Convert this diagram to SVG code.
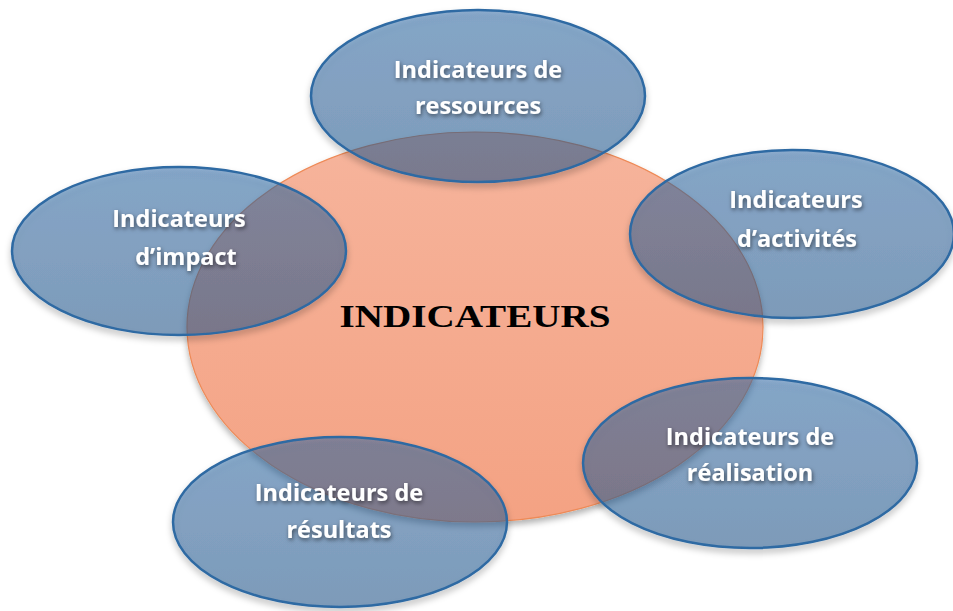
<svg xmlns="http://www.w3.org/2000/svg" width="953" height="611" viewBox="0 0 953 611">
<defs>
<linearGradient id="og" x1="0" y1="0" x2="0" y2="1">
<stop offset="0" stop-color="#f6b49c"/>
<stop offset="1" stop-color="#f4a283"/>
</linearGradient>
<linearGradient id="bg" x1="0" y1="0" x2="0" y2="1">
<stop offset="0" stop-color="#2f6aa8"/>
<stop offset="1" stop-color="#22578f"/>
</linearGradient>
<filter id="sh" x="-20%" y="-20%" width="140%" height="150%">
<feDropShadow dx="0" dy="4" stdDeviation="3" flood-color="#000" flood-opacity="0.3"/>
</filter>
<filter id="ts" x="-20%" y="-40%" width="140%" height="180%">
<feDropShadow dx="1" dy="2" stdDeviation="2" flood-color="#000" flood-opacity="0.55"/>
</filter>
</defs>
<style>
.sat{fill:url(#bg);fill-opacity:0.5;stroke:#2f6aa3;stroke-width:2.5}
.lbl{font-family:"Open Sans","Liberation Sans",sans-serif;font-weight:bold;font-size:23.5px;fill:#ffffff;text-anchor:middle;filter:url(#ts)}
.ctr{font-family:"Liberation Serif","DejaVu Serif",serif;font-weight:bold;font-size:32px;fill:#000;text-anchor:middle}
</style>
<rect width="953" height="611" fill="#ffffff"/>
<g id="center">
<ellipse cx="475" cy="327" rx="288" ry="195" fill="url(#og)" stroke="#ee8a57" stroke-width="1.2" filter="url(#sh)"/>
<text class="ctr" x="475" y="327" textLength="271" lengthAdjust="spacingAndGlyphs">INDICATEURS</text>
</g>
<g id="connectors"></g>
<g id="ressources">
<ellipse class="sat" cx="478" cy="96" rx="167" ry="86" filter="url(#sh)"/>
<text class="lbl" x="478" y="78">Indicateurs de</text>
<text class="lbl" x="478" y="114">ressources</text>
</g>
<g id="impact">
<ellipse class="sat" cx="179" cy="251" rx="167" ry="84" filter="url(#sh)"/>
<text class="lbl" x="179" y="227">Indicateurs</text>
<text class="lbl" x="186" y="265">d’impact</text>
</g>
<g id="activites">
<ellipse class="sat" cx="792" cy="234" rx="162" ry="84" filter="url(#sh)"/>
<text class="lbl" x="796" y="208">Indicateurs</text>
<text class="lbl" x="797" y="247">d’activités</text>
</g>
<g id="realisation">
<ellipse class="sat" cx="750" cy="463" rx="167" ry="85" filter="url(#sh)"/>
<text class="lbl" x="750" y="445">Indicateurs de</text>
<text class="lbl" x="750" y="481">réalisation</text>
</g>
<g id="resultats">
<ellipse class="sat" cx="340" cy="522" rx="167" ry="85" filter="url(#sh)"/>
<text class="lbl" x="339" y="501">Indicateurs de</text>
<text class="lbl" x="339" y="538">résultats</text>
</g>
</svg>
